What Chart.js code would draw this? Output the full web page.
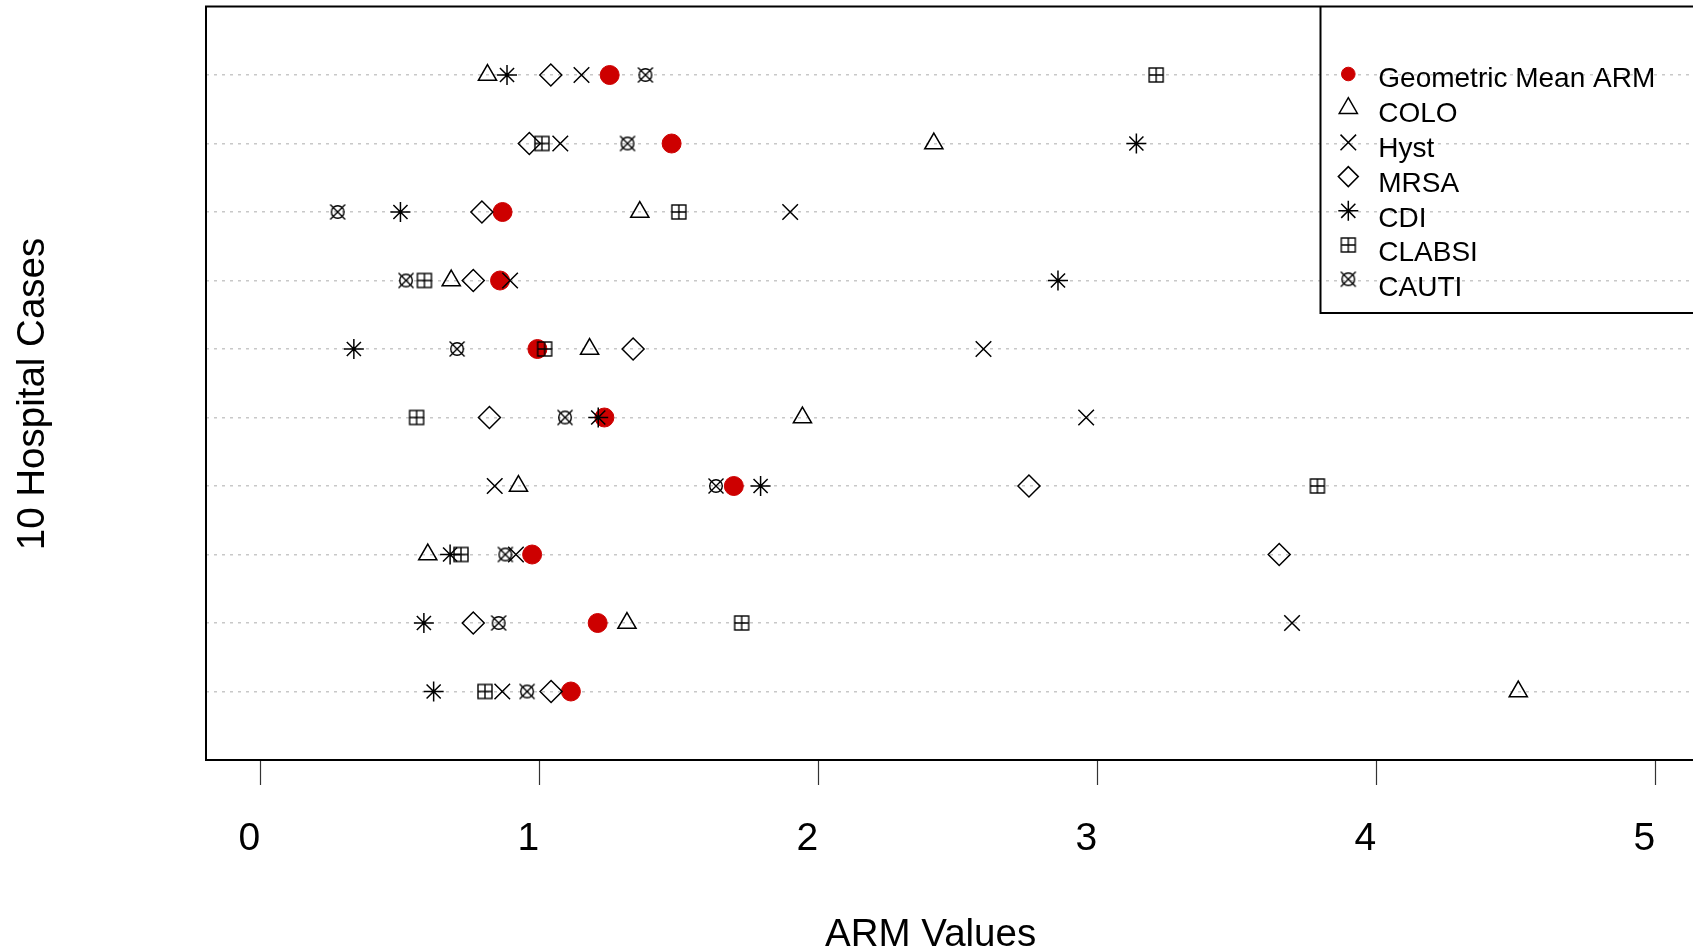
<!DOCTYPE html>
<html>
<head>
<meta charset="utf-8">
<title>ARM Values by Hospital</title>
<script src="https://cdn.jsdelivr.net/npm/chart.js@4.4.1/dist/chart.umd.min.js"></script>
<style>
  html, body { margin: 0; padding: 0; background: #fff; overflow: hidden; }
  canvas { display: block; }
</style>
</head>
<body>
<canvas id="chart" width="1730" height="951"></canvas>
<script>
/* data: hospital 1 is the bottom row */
const hospitals = [1, 2, 3, 4, 5, 6, 7, 8, 9, 10];
const geoMean = [1.113, 1.209, 0.974, 1.697, 1.233, 0.993, 0.859, 0.868, 1.474, 1.252];
const colo    = [4.509, 1.314, 0.600, 0.925, 1.943, 1.180, 0.684, 1.360, 2.414, 0.814];
const hyst    = [0.867, 3.698, 0.916, 0.840, 2.960, 2.592, 0.895, 1.899, 1.075, 1.151];
const mrsa    = [1.042, 0.763, 3.652, 2.755, 0.821, 1.336, 0.763, 0.794, 0.964, 1.041];
const cdi     = [0.621, 0.586, 0.680, 1.793, 1.211, 0.335, 2.859, 0.502, 3.140, 0.884];
const clabsi  = [0.805, 1.725, 0.719, 3.789, 0.560, 1.019, 0.588, 1.500, 1.009, 3.211];
const cauti   = [0.956, 0.854, 0.878, 1.633, 1.092, 0.705, 0.522, 0.277, 1.316, 1.380];
const xTicks  = [0, 1, 2, 3, 4, 5];

const FONT = '"Liberation Sans", Arial, sans-serif';
const RED = '#cd0000';

/* R style pch 12 and pch 13 markers */
function makeMarker(draw) {
    const c = document.createElement('canvas');
    c.width = 20; c.height = 20;
    const g = c.getContext('2d');
    g.strokeStyle = '#000';
    g.lineWidth = 1.4;
    draw(g);
    return c;
}
const boxPlus = makeMarker(g => {
    g.strokeRect(3, 3, 14, 14);
    g.beginPath();
    g.moveTo(10, 3); g.lineTo(10, 17);
    g.moveTo(3, 10); g.lineTo(17, 10);
    g.stroke();
});
const circleX = makeMarker(g => {
    g.beginPath();
    g.arc(10, 10, 6.3, 0, Math.PI * 2);
    g.stroke();
    g.beginPath();
    g.moveTo(2.5, 2.5); g.lineTo(17.5, 17.5);
    g.moveTo(17.5, 2.5); g.lineTo(2.5, 17.5);
    g.stroke();
});

function series(label, values, style, radius, legendRadius, filled) {
    return {
        label,
        data: values.map((v, i) => ({ x: v, y: hospitals[i] })),
        pointStyle: style,
        pointRadius: radius,
        legendRadius,
        borderColor: filled ? RED : '#000',
        backgroundColor: filled ? RED : 'rgba(0,0,0,0)',
        borderWidth: filled ? 1 : 1.5,
        order: filled ? 1 : 0
    };
}

const datasets = [
    series('Geometric Mean ARM', geoMean, 'circle', 9.5, 6.8, true),
    series('COLO', colo, 'triangle', 10.5, 10.5),
    series('Hyst', hyst, 'crossRot', 11, 11),
    series('MRSA', mrsa, 'rectRot', 11, 10),
    series('CDI', cdi, 'star', 10, 10),
    series('CLABSI', clabsi, boxPlus, 10, 10),
    series('CAUTI', cauti, circleX, 10, 10)
];

/* box, legend and axis titles like the R plot */
const framePlugin = {
    id: 'frame',
    afterDraw(chart) {
        const { ctx, chartArea: a, scales: { x } } = chart;
        ctx.save();
        ctx.strokeStyle = '#000';
        ctx.lineWidth = 2;
        ctx.strokeRect(a.left, a.top, a.right - a.left, a.bottom - a.top);

        // legend
        const lx = 1320.5, lBottom = 313;
        ctx.beginPath();
        ctx.moveTo(a.right + 5, lBottom);
        ctx.lineTo(lx, lBottom);
        ctx.lineTo(lx, a.top);
        ctx.stroke();

        ctx.font = '28px ' + FONT;
        ctx.textAlign = 'left';
        ctx.textBaseline = 'alphabetic';
        chart.data.datasets.forEach((ds, i) => {
            const sy = 74 + i * 34.2;
            ctx.fillStyle = ds.backgroundColor;
            ctx.strokeStyle = ds.borderColor;
            ctx.lineWidth = ds.borderWidth;
            Chart.helpers.drawPoint(ctx, {
                pointStyle: ds.pointStyle, radius: ds.legendRadius, rotation: 0, borderWidth: ds.borderWidth
            }, 1348.3, sy);
            ctx.fillStyle = '#000';
            ctx.fillText(ds.label, 1378.3, 87.3 + i * 34.8);
        });

        // axis titles
        ctx.fillStyle = '#000';
        ctx.font = '38.5px ' + FONT;
        ctx.textAlign = 'center';
        ctx.fillText('ARM Values', (a.left + x.getPixelForValue(5)) / 2, 946);
        ctx.translate(44, 394);
        ctx.rotate(-Math.PI / 2);
        ctx.fillText('10 Hospital Cases', 0, 0);
        ctx.restore();
    }
};

new Chart(document.getElementById('chart'), {
    type: 'scatter',
    data: { datasets },
    plugins: [framePlugin],
    options: {
        responsive: false,
        animation: false,
        events: [],
        layout: { autoPadding: false, padding: { left: 206, top: 6.5, right: 5, bottom: 0 } },
        plugins: {
            legend: { display: false },
            tooltip: { enabled: false }
        },
        scales: {
            x: {
                type: 'linear',
                min: -0.195,
                max: 5.25,
                afterBuildTicks: s => { s.ticks = xTicks.map(v => ({ value: v })); },
                afterFit: s => { s.height = 191; },
                border: { display: false },
                grid: { drawOnChartArea: false, drawTicks: true, tickLength: 25, tickColor: '#333', tickWidth: 1.2 },
                ticks: {
                    color: '#000',
                    font: { family: FONT, size: 39 },
                    padding: 31,
                    labelOffset: -11,
                    maxRotation: 0,
                    autoSkip: false
                }
            },
            y: {
                type: 'linear',
                min: 0,
                max: 11,
                afterBuildTicks: s => { s.ticks = hospitals.map(v => ({ value: v })); },
                afterFit: s => { s.width = 0; },
                ticks: { display: false },
                border: { display: false, dash: [3, 5] },
                grid: { color: '#c8c8c8', lineWidth: 1.5, drawTicks: false }
            }
        }
    }
});
</script>
</body>
</html>
